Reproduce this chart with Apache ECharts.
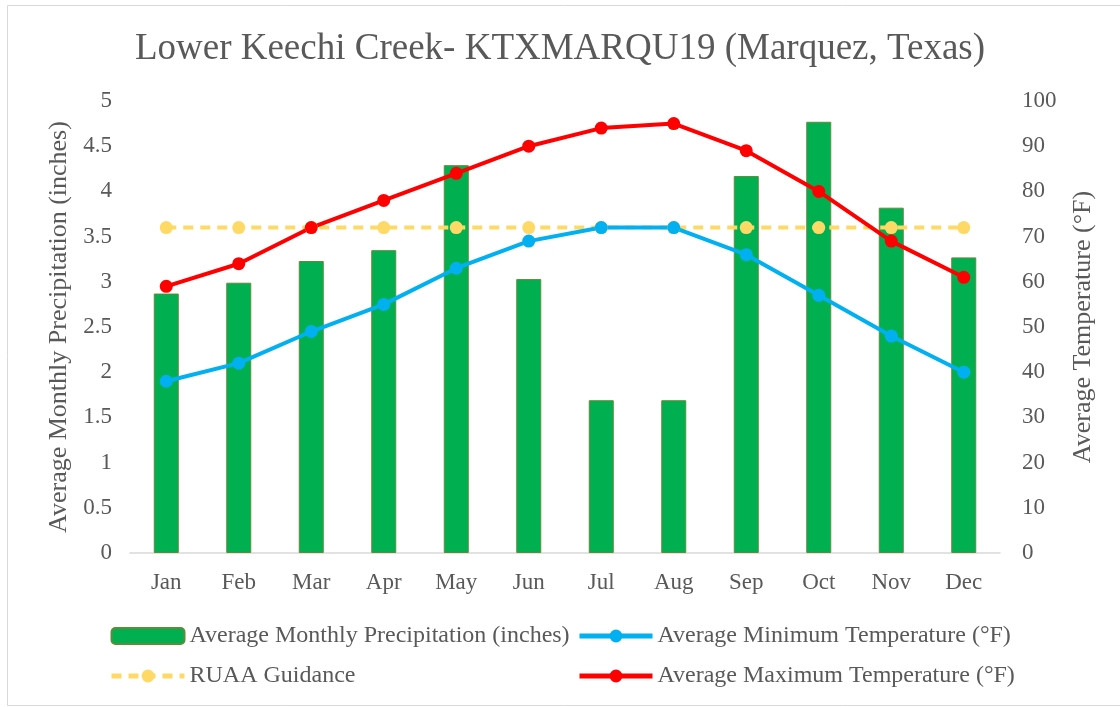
<!DOCTYPE html>
<html>
<head>
<meta charset="utf-8">
<script src="https://cdn.jsdelivr.net/npm/echarts@6/dist/echarts.min.js"></script>
<style>
  html, body { margin: 0; padding: 0; background: #fff; }
  #chart { width: 1120px; height: 707px; }
</style>
</head>
<body>
<div id="chart"></div>
<script>
var months = ['Jan', 'Feb', 'Mar', 'Apr', 'May', 'Jun', 'Jul', 'Aug', 'Sep', 'Oct', 'Nov', 'Dec'];
var precip = [2.87, 2.99, 3.23, 3.35, 4.29, 3.03, 1.69, 1.69, 4.17, 4.77, 3.82, 3.27];
var minTemp = [38, 42, 49, 55, 63, 69, 72, 72, 66, 57, 48, 40];
var maxTemp = [59, 64, 72, 78, 84, 90, 94, 95, 89, 80, 69, 61];
var ruaa = [72, 72, 72, 72, 72, 72, 72, 72, 72, 72, 72, 72];

var font = 'Liberation Serif';
var grey = '#595959';

var chart = echarts.init(document.getElementById('chart'));
chart.setOption({
  animation: false,
  backgroundColor: '#fff',
  textStyle: { fontFamily: font, color: grey },
  graphic: [{
    type: 'rect',
    shape: { x: 7.5, y: 5.5, width: 1120, height: 700 },
    style: { fill: 'none', stroke: '#d9d9d9', lineWidth: 1 },
    silent: true
  }],
  title: {
    text: 'Lower Keechi Creek- KTXMARQU19 (Marquez, Texas)',
    left: 'center',
    top: 26,
    textStyle: { fontFamily: font, fontSize: 37, fontWeight: 'normal', color: grey }
  },
  legend: [{
    orient: 'vertical',
    left: 109,
    top: 624,
    padding: 0,
    itemWidth: 73,
    itemHeight: 16,
    itemGap: 16,
    lineStyle: { width: 5 },
    textStyle: { fontFamily: font, fontSize: 24, color: grey },
    data: ['Average Monthly Precipitation (inches)', 'RUAA Guidance']
  }, {
    orient: 'vertical',
    left: 577,
    top: 624,
    padding: 0,
    itemWidth: 73,
    itemHeight: 16,
    itemGap: 16,
    lineStyle: { width: 5 },
    textStyle: { fontFamily: font, fontSize: 24, color: grey },
    data: ['Average Minimum Temperature (°F)', 'Average Maximum Temperature (°F)']
  }],
  grid: { left: 130, right: 120, top: 101, bottom: 154 },
  xAxis: {
    type: 'category',
    data: months,
    axisTick: { show: false },
    axisLine: { lineStyle: { color: '#d9d9d9', width: 1.5 } },
    axisLabel: { fontFamily: font, fontSize: 23, color: grey, margin: 18 }
  },
  yAxis: [{
    type: 'value',
    min: 0,
    max: 5,
    interval: 0.5,
    name: 'Average Monthly Precipitation (inches)',
    nameLocation: 'middle',
    nameGap: 58,
    nameTextStyle: { fontFamily: font, fontSize: 26, color: grey },
    splitLine: { show: false },
    axisLine: { show: false },
    axisTick: { show: false },
    axisLabel: { fontFamily: font, fontSize: 23, color: grey, margin: 18 }
  }, {
    type: 'value',
    min: 0,
    max: 100,
    interval: 10,
    name: 'Average Temperature (°F)',
    nameLocation: 'middle',
    nameGap: 70,
    nameRotate: 90,
    nameTextStyle: { fontFamily: font, fontSize: 26, color: grey },
    splitLine: { show: false },
    axisLine: { show: false },
    axisTick: { show: false },
    axisLabel: { fontFamily: font, fontSize: 23, color: grey, margin: 22 }
  }],
  series: [{
    name: 'Average Monthly Precipitation (inches)',
    type: 'bar',
    data: precip,
    barWidth: 25,
    itemStyle: { color: '#00b050', borderColor: '#5e8c3a', borderWidth: 1 }
  }, {
    name: 'RUAA Guidance',
    type: 'line',
    yAxisIndex: 1,
    data: ruaa,
    symbol: 'circle',
    symbolSize: 13,
    lineStyle: { color: '#ffd966', width: 4, type: [10, 7] },
    itemStyle: { color: '#ffd966' }
  }, {
    name: 'Average Minimum Temperature (°F)',
    type: 'line',
    yAxisIndex: 1,
    data: minTemp,
    symbol: 'circle',
    symbolSize: 13,
    lineStyle: { color: '#00b0f0', width: 4 },
    itemStyle: { color: '#00b0f0' }
  }, {
    name: 'Average Maximum Temperature (°F)',
    type: 'line',
    yAxisIndex: 1,
    data: maxTemp,
    symbol: 'circle',
    symbolSize: 13,
    lineStyle: { color: '#ff0000', width: 4 },
    itemStyle: { color: '#ff0000' }
  }]
});
</script>
</body>
</html>
